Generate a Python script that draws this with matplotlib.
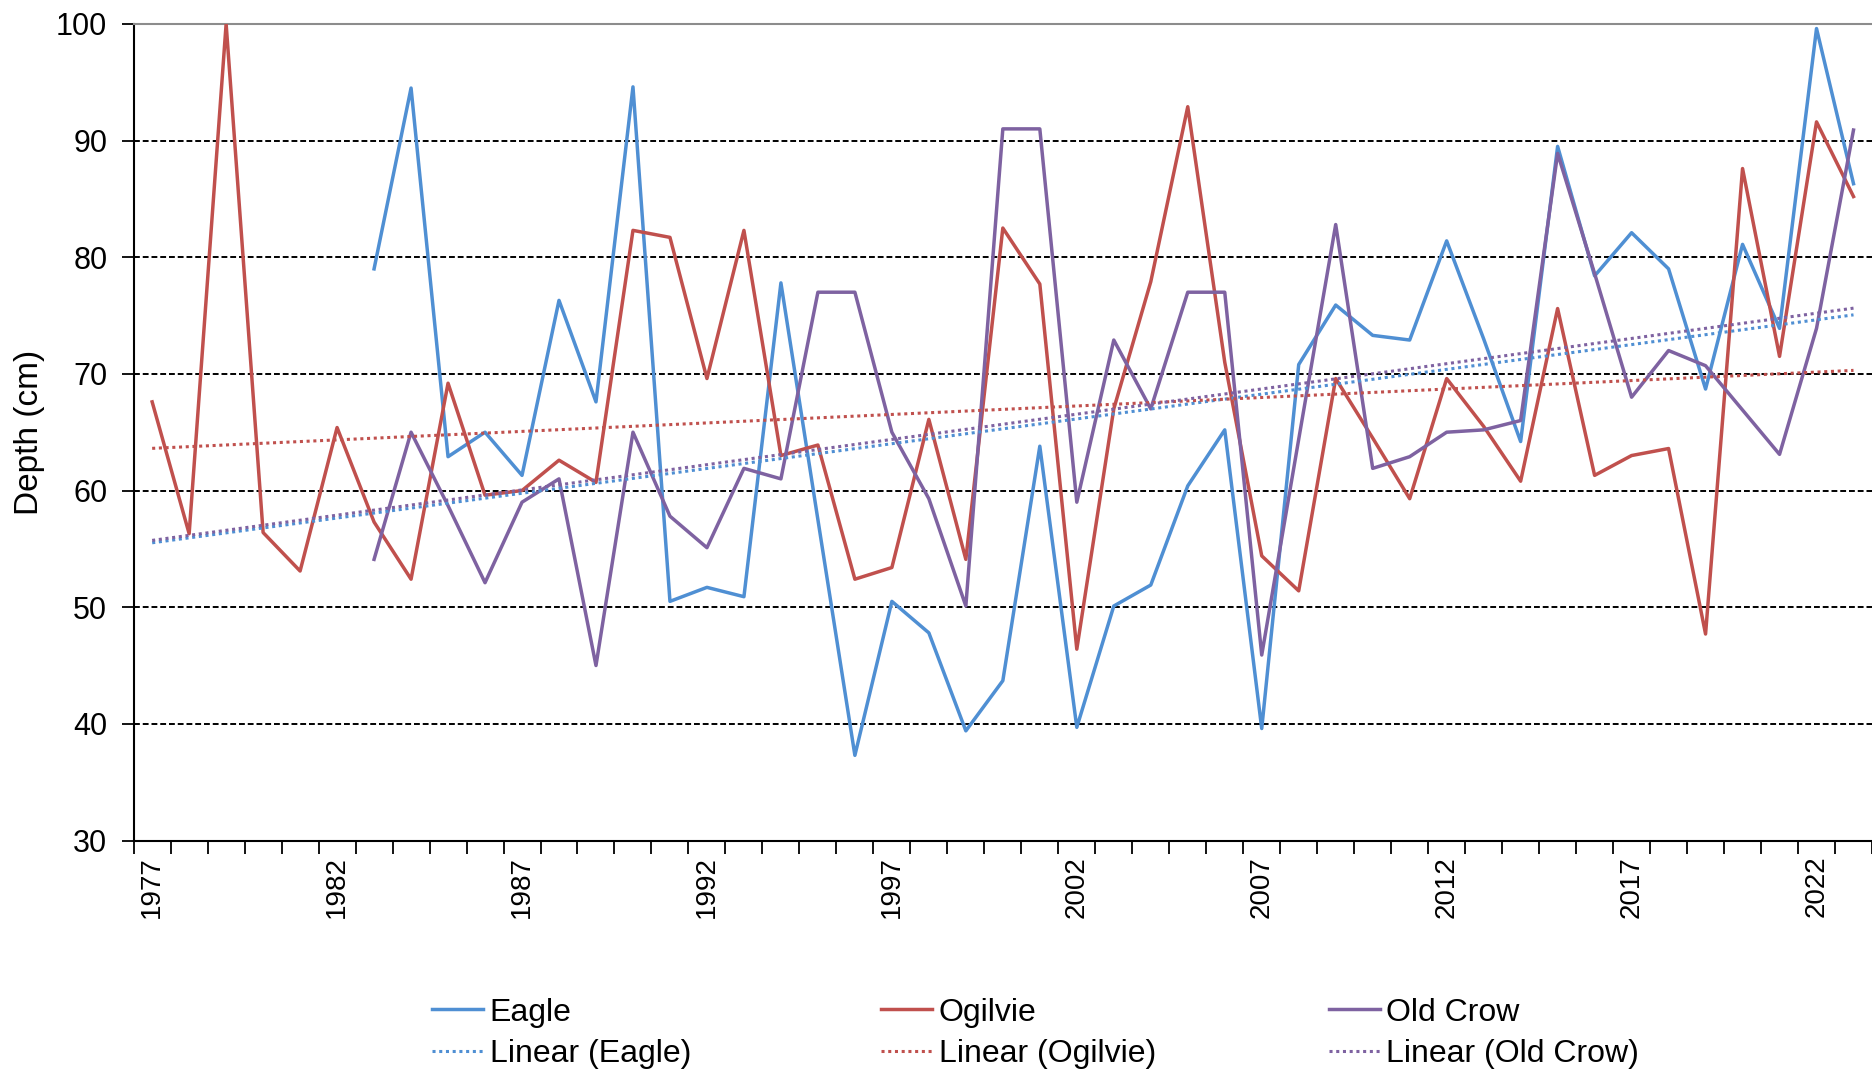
import matplotlib
matplotlib.use("Agg")
import matplotlib.pyplot as plt
import numpy as np

plt.rcParams['font.family'] = ['Liberation Sans', 'DejaVu Sans']

nan = np.nan

# snow depth (cm) per year
years = list(range(1977, 2024))

eagle = [nan, nan, nan, nan, nan, nan,
         79.0, 94.5, 62.9, 65.0, 61.3, 76.3, 67.6, 94.6, 50.5, 51.7,
         50.9, 77.8, 57.5, 37.3, 50.5, 47.8, 39.4, 43.7, 63.8, 39.7,
         50.1, 51.9, 60.4, 65.2, 39.6, 70.8, 75.9, 73.3, 72.9, 81.4,
         73.0, 64.2, 89.5, 78.4, 82.1, 79.0, 68.7, 81.1, 73.9, 99.6,
         86.3]

ogilvie = [67.6, 56.3, 100.0, 56.4, 53.1, 65.4, 57.3, 52.4, 69.2, 59.6,
           60.0, 62.6, 60.7, 82.3, 81.7, 69.6, 82.3, 63.0, 63.9, 52.4,
           53.4, 66.1, 54.1, 82.5, 77.7, 46.4, 67.0, 77.9, 92.9, 71.0,
           54.4, 51.4, 69.6, 64.5, 59.3, 69.6, 65.5, 60.8, 75.6, 61.3,
           63.0, 63.6, 47.7, 87.6, 71.5, 91.6, 85.2]

old_crow = [nan, nan, nan, nan, nan, nan,
            54.1, 65.0, 58.7, 52.1, 59.0, 61.0, 45.0, 65.0, 57.8, 55.1,
            61.9, 61.0, 77.0, 77.0, 65.0, 59.3, 50.1, 91.0, 91.0, 59.0,
            72.9, 67.0, 77.0, 77.0, 45.9, 64.4, 82.8, 61.9, 62.9, 65.0,
            65.2, 66.0, 88.9, 78.6, 68.0, 72.0, 70.7, 66.9, 63.1, 73.9,
            90.9]

names = ['Eagle', 'Ogilvie', 'Old Crow']
colors = ['#4F8FD3', '#C0504D', '#7E62A1']
series = [eagle, ogilvie, old_crow]

fig = plt.figure(figsize=(18.72, 10.71), dpi=100)
ax = fig.add_axes([0.0714, 0.2152, 0.9286, 0.7625])

x = np.arange(len(years))

lines = []
trends = []
for name, col, vals in zip(names, colors, series):
    v = np.array(vals, dtype=float)
    ln, = ax.plot(x, v, color=col, lw=2.5, label=name, zorder=3)
    lines.append(ln)

for name, col, vals in zip(names, colors, series):
    v = np.array(vals, dtype=float)
    ok = ~np.isnan(v)
    m, b = np.polyfit(x[ok], v[ok], 1)
    tr, = ax.plot(x, m * x + b, color=col, lw=2.2, ls=(0, (1, 1.2)),
                  label='Linear (%s)' % name, zorder=4)
    trends.append(tr)

ax.set_xlim(-0.5, len(years) - 0.5)
ax.set_ylim(30, 100)

# gridlines
for g in range(40, 100, 10):
    ax.axhline(g, color='black', lw=1.4, ls=(0, (3, 1.5)), zorder=1)

ax.set_yticks(range(30, 101, 10))
ax.tick_params(axis='y', labelsize=22, length=9, width=1.3, direction='out', pad=10)

# x ticks between categories, labels every 5 years
ax.set_xticks(np.arange(-0.5, len(years), 1.0))
ax.set_xticklabels([])
ax.tick_params(axis='x', which='major', length=9, width=1.3, direction='out')
ax.set_xticks(x[::5], minor=True)
ax.set_xticklabels([str(years[i]) for i in x[::5]], minor=True, rotation=90)
ax.tick_params(axis='x', which='minor', length=0, labelsize=20, pad=11)

ax.spines['left'].set_color('black')
ax.spines['left'].set_linewidth(1.5)
ax.spines['bottom'].set_color('black')
ax.spines['bottom'].set_linewidth(1.5)
ax.spines['top'].set_color('#8c8c8c')
ax.spines['top'].set_linewidth(1.5)
ax.spines['right'].set_visible(False)

fig.text(0.0155, 0.596, 'Depth (cm)', rotation=90, ha='center', va='center', fontsize=24)

# one small legend per station, side by side
for i, lx in enumerate([0.2309, 0.4707, 0.7098]):
    hs = [lines[i], trends[i]]
    fig.legend(hs, [h.get_label() for h in hs], frameon=False,
               loc='upper left', bbox_to_anchor=(lx, 0.0686), fontsize=23,
               handlelength=1.6, handletextpad=0.2, labelspacing=0.35,
               borderpad=0, borderaxespad=0)

fig.savefig('out.png', dpi=100)
